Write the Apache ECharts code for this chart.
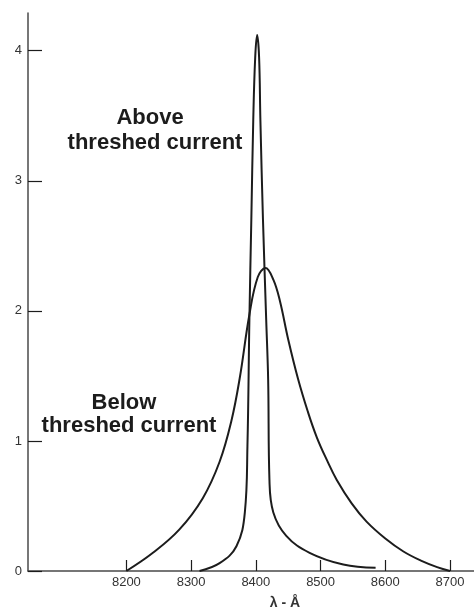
<!DOCTYPE html>
<html>
<head>
<meta charset="utf-8">
<script src="https://cdn.jsdelivr.net/npm/echarts@6/dist/echarts.min.js"></script>
<style>
html,body{margin:0;padding:0;background:#fff;}
#chart{width:474px;height:614px;}
</style>
</head>
<body>
<div id="chart"></div>
<script>
// Wavelength (Å) / relative intensity
const belowThreshold = [
  [8200,0],[8241,0.14],[8282,0.32],[8318,0.56],[8344,0.84],[8362,1.15],[8375,1.48],
  [8390,1.97],[8403,2.26],[8415,2.33],[8427,2.24],[8437,2.08],[8450,1.78],[8465,1.48],
  [8480,1.23],[8494,1.03],[8510,0.85],[8525,0.7],[8548,0.52],[8571,0.38],[8600,0.25],
  [8628,0.15],[8655,0.08],[8680,0.03],[8700,0]
];
const aboveThreshold = [
  [8313,0],[8344,0.06],[8370,0.19],[8383,0.45],[8387,0.96],[8390,1.93],[8393,2.7],
  [8396,3.47],[8399,3.95],[8402,4.12],[8405,3.95],[8407,3.47],[8411,2.7],[8416,1.93],
  [8419,1.47],[8421,0.7],[8427,0.45],[8447,0.27],[8483,0.14],[8535,0.05],[8585,0.025]
];
const xTicks = [8200,8300,8400,8500,8600,8700];
const yTicks = [0,1,2,3,4];
const xName = 'λ - Å';
const labelAbove = ['Above','threshed current'];
const labelBelow = ['Below','threshed current'];

const chart = echarts.init(document.getElementById('chart'), null, {renderer:'canvas'});
const ink = '#1c1c1c';
const axisCol = '#4a4a4a';
const boldFont = 'bold 22px "Liberation Sans", Arial, sans-serif';

chart.setOption({
  backgroundColor:'#fff',
  animation:false,
  grid:{left:28,right:0,top:13,bottom:43,containLabel:false},
  xAxis:{
    type:'value', min:8048, max:8737,
    axisLine:{show:true,onZero:false,lineStyle:{color:axisCol,width:1.5}},
    axisTick:{show:true,inside:true,length:11,customValues:xTicks,lineStyle:{color:ink,width:1.2}},
    axisLabel:{show:true,customValues:xTicks,margin:5,color:'#333',fontSize:13,
      formatter:function(v){return String(v);},
      fontFamily:'"Liberation Sans", Arial, sans-serif'},
    splitLine:{show:false}
  },
  yAxis:{
    type:'value', min:0, max:4.29,
    axisLine:{show:true,onZero:false,lineStyle:{color:axisCol,width:1.5}},
    axisTick:{show:true,inside:true,length:14,customValues:yTicks,lineStyle:{color:ink,width:1.2}},
    axisLabel:{show:true,customValues:yTicks,margin:6,color:'#333',fontSize:13,
      fontFamily:'"Liberation Sans Narrow", "Liberation Sans", Arial, sans-serif'},
    splitLine:{show:false}
  },
  series:[
    {type:'line',name:'below',data:belowThreshold,showSymbol:false,smooth:0.4,
     lineStyle:{color:ink,width:2}},
    {type:'line',name:'above',data:aboveThreshold,showSymbol:false,smooth:0.4,
     lineStyle:{color:ink,width:2}}
  ],
  graphic:[
    {type:'text',x:150,y:118,style:{text:labelAbove[0],font:boldFont,fill:ink,textAlign:'center',textVerticalAlign:'middle'}},
    {type:'text',x:155,y:143,style:{text:labelAbove[1],font:boldFont,fill:ink,textAlign:'center',textVerticalAlign:'middle'}},
    {type:'text',x:124,y:403,style:{text:labelBelow[0],font:boldFont,fill:ink,textAlign:'center',textVerticalAlign:'middle'}},
    {type:'text',x:129,y:426,style:{text:labelBelow[1],font:boldFont,fill:ink,textAlign:'center',textVerticalAlign:'middle'}},
    {type:'text',x:285,y:603,style:{text:xName,font:'bold 14px "Liberation Sans", Arial, sans-serif',fill:'#333',textAlign:'center',textVerticalAlign:'middle'}}
  ]
});
</script>
</body>
</html>
